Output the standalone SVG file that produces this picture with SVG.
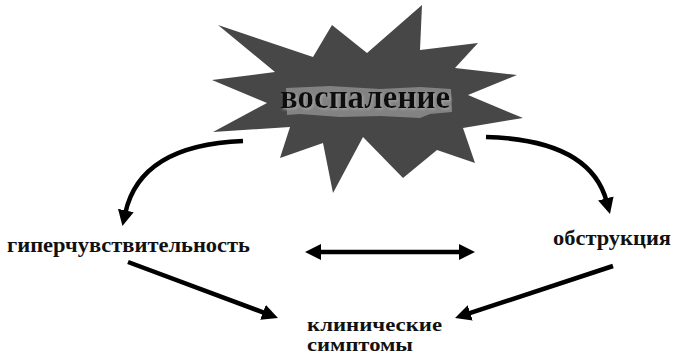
<svg xmlns="http://www.w3.org/2000/svg" width="673" height="355" viewBox="0 0 673 355">
<style>
.lbl{font-family:"Liberation Serif","Times New Roman",serif;font-weight:bold;fill:#111;}
.con{fill:none;stroke:#000;stroke-width:4.5;stroke-linecap:butt;}
</style>
<defs>
<marker id="ah" markerUnits="userSpaceOnUse" viewBox="0 0 16 16" markerWidth="16" markerHeight="16" refX="3" refY="8" orient="auto-start-reverse">
<path d="M0,0 L16,8 L0,16 z" fill="#000"/>
</marker>
<filter id="soft" x="-10%" y="-10%" width="120%" height="120%"><feGaussianBlur stdDeviation="0.6"/></filter>
<filter id="shadow" x="-10%" y="-30%" width="120%" height="160%"><feDropShadow dx="1.5" dy="1.5" stdDeviation="0.8" flood-color="#a0a0a0"/></filter>
</defs>
<rect width="673" height="355" fill="#fff"/>
<g id="inflammation">
<polygon filter="url(#soft)" fill="#474747" points="218,25 313,57 332,25 367,53 422,5 420,50 478,43 455,68 517,75 468,95 523,118 463,128 475,163 437,150 403,178 363,137 333,193 323,143 280,158 290,127 213,132 267,103 212,80 275,72"/>
<path filter="url(#soft)" fill="#828282" d="M286,88 L330,86 L380,89 L420,87 L451,89 L452,112 L430,114 L420,118 L380,116 L340,117 L300,114 L287,115 Z"/>
<text class="lbl" x="365" y="108" font-size="34" text-anchor="middle" textLength="170" lengthAdjust="spacingAndGlyphs" filter="url(#shadow)">воспаление</text>
</g>
<g id="hyper">
<text class="lbl" x="7" y="252" font-size="22" textLength="243" lengthAdjust="spacingAndGlyphs">гиперчувствительность</text>
</g>
<g id="obstruction">
<text class="lbl" x="553" y="245" font-size="22" textLength="118" lengthAdjust="spacingAndGlyphs">обструкция</text>
</g>
<g id="symptoms">
<text class="lbl" x="307" y="331" font-size="18" textLength="135" lengthAdjust="spacingAndGlyphs">клинические</text>
<text class="lbl" x="307" y="351" font-size="18" textLength="106" lengthAdjust="spacingAndGlyphs">симптомы</text>
</g>
<g id="connectors">
<path class="con" d="M243,141 Q140,145 125.2,213.4" marker-end="url(#ah)"/>
<path class="con" d="M486,137 Q590,140 606.6,201.4" marker-end="url(#ah)"/>
<path class="con" d="M318,252 L462,252" marker-start="url(#ah)" marker-end="url(#ah)"/>
<path class="con" d="M128,262 L265.8,313.4" marker-end="url(#ah)"/>
<path class="con" d="M613,266 L467.4,313.9" marker-end="url(#ah)"/>
</g>
</svg>
